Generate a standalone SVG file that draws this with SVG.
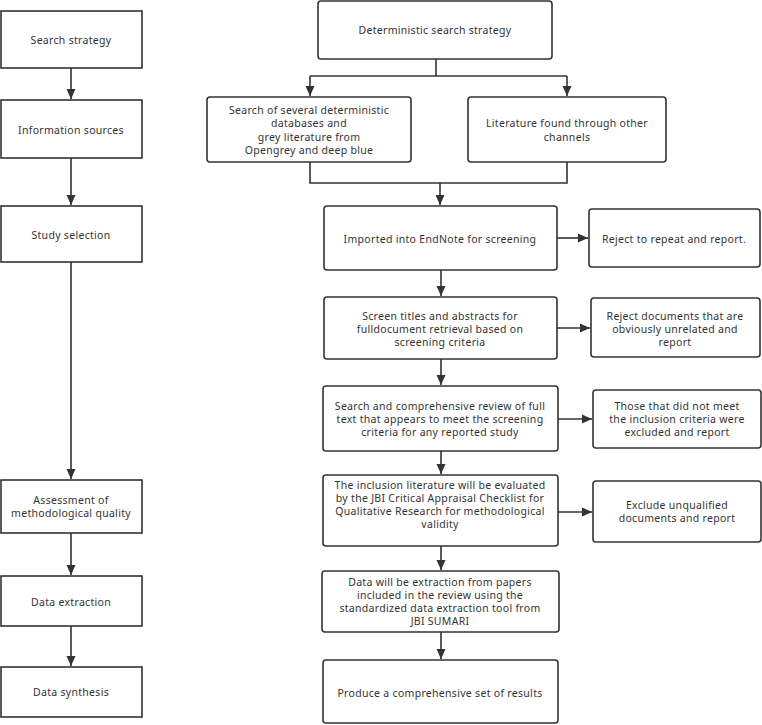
<svg xmlns="http://www.w3.org/2000/svg" width="762" height="725" viewBox="0 0 762 725">
<style>
.box{fill:#fff;stroke:#333;stroke-width:1.6}
.t{font-family:"Noto Sans","Open Sans",sans-serif;font-size:10.5px;letter-spacing:0.3px;fill:#333;text-anchor:middle}
.c{fill:none;stroke:#333;stroke-width:1.6}
</style>
<defs>
<marker id="ah" markerUnits="userSpaceOnUse" markerWidth="10" markerHeight="10" viewBox="0 0 10 10" refX="10" refY="5" orient="auto">
<path d="M0,0.5 L10,5 L0,9.5 Z" fill="#333"/>
</marker>
</defs>
<rect width="762" height="725" fill="#fff"/>
<g id="connectors">
<path class="c" d="M71,68 V99" marker-end="url(#ah)"/>
<path class="c" d="M71,158 V205" marker-end="url(#ah)"/>
<path class="c" d="M71,262 V479" marker-end="url(#ah)"/>
<path class="c" d="M71,533 V575" marker-end="url(#ah)"/>
<path class="c" d="M71,626 V666" marker-end="url(#ah)"/>
<path class="c" d="M436,59 V76"/>
<path class="c" d="M310,76 H567"/>
<path class="c" d="M310,76 V96" marker-end="url(#ah)"/>
<path class="c" d="M567,76 V96" marker-end="url(#ah)"/>
<path class="c" d="M310,162 V183 H567 V162"/>
<path class="c" d="M440,183 V205" marker-end="url(#ah)"/>
<path class="c" d="M557,238 H588" marker-end="url(#ah)"/>
<path class="c" d="M441,270 V296" marker-end="url(#ah)"/>
<path class="c" d="M557,328 H590" marker-end="url(#ah)"/>
<path class="c" d="M441,359 V385" marker-end="url(#ah)"/>
<path class="c" d="M558,419 H592" marker-end="url(#ah)"/>
<path class="c" d="M441,451 V474" marker-end="url(#ah)"/>
<path class="c" d="M558,512 H592" marker-end="url(#ah)"/>
<path class="c" d="M441,546 V570" marker-end="url(#ah)"/>
<path class="c" d="M441,632 V659" marker-end="url(#ah)"/>
</g>
<g id="n-search-strategy"><rect class="box" x="1" y="11" width="141" height="57"/><text class="t" x="71" y="44">Search strategy</text></g>
<g id="n-info-sources"><rect class="box" x="1" y="100" width="141" height="58"/><text class="t" x="71" y="134">Information sources</text></g>
<g id="n-study-selection"><rect class="box" x="1" y="206" width="141" height="56"/><text class="t" x="71" y="239">Study selection</text></g>
<g id="n-assessment"><rect class="box" x="1" y="480" width="141" height="53"/><text class="t" x="71" y="504">Assessment of</text><text class="t" x="71" y="517">methodological quality</text></g>
<g id="n-data-extraction"><rect class="box" x="1" y="576" width="141" height="50"/><text class="t" x="71" y="606">Data extraction</text></g>
<g id="n-data-synthesis"><rect class="box" x="1" y="667" width="141" height="50"/><text class="t" x="71" y="696">Data synthesis</text></g>

<g id="n-deterministic"><rect class="box" x="318" y="1" width="234" height="58" rx="3"/><text class="t" x="435" y="34">Deterministic search strategy</text></g>
<g id="n-databases"><rect class="box" x="207" y="97" width="204" height="65" rx="3"/><text class="t" x="309" y="114">Search of several deterministic</text><text class="t" x="309" y="127">databases and</text><text class="t" x="309" y="141">grey literature from</text><text class="t" x="309" y="154">Opengrey and deep blue</text></g>
<g id="n-other-channels"><rect class="box" x="468" y="97" width="198" height="65" rx="3"/><text class="t" x="567" y="127">Literature found through other</text><text class="t" x="567" y="141">channels</text></g>
<g id="n-endnote"><rect class="box" x="324" y="206" width="233" height="64" rx="3"/><text class="t" x="440" y="243">Imported into EndNote for screening</text></g>
<g id="n-reject-repeat"><rect class="box" x="589" y="209" width="171" height="58" rx="3"/><text class="t" x="674" y="243">Reject to repeat and report.</text></g>
<g id="n-screen"><rect class="box" x="324" y="297" width="233" height="62" rx="3"/><text class="t" x="440" y="320">Screen titles and abstracts for</text><text class="t" x="440" y="333">fulldocument retrieval based on</text><text class="t" x="440" y="346">screening criteria</text></g>
<g id="n-reject-unrelated"><rect class="box" x="591" y="298" width="169" height="59" rx="3"/><text class="t" x="675" y="320">Reject documents that are</text><text class="t" x="675" y="333">obviously unrelated and</text><text class="t" x="675" y="346">report</text></g>
<g id="n-fulltext"><rect class="box" x="323" y="386" width="235" height="65" rx="3"/><text class="t" x="440" y="410">Search and comprehensive review of full</text><text class="t" x="440" y="423">text that appears to meet the screening</text><text class="t" x="440" y="436">criteria for any reported study</text></g>
<g id="n-not-meet"><rect class="box" x="593" y="390" width="168" height="58" rx="3"/><text class="t" x="677" y="410">Those that did not meet</text><text class="t" x="677" y="423">the inclusion criteria were</text><text class="t" x="677" y="436">excluded and report</text></g>
<g id="n-jbi"><rect class="box" x="323" y="475" width="235" height="71" rx="3"/><text class="t" x="440" y="489">The inclusion literature will be evaluated</text><text class="t" x="440" y="502">by the JBI Critical Appraisal Checklist for</text><text class="t" x="440" y="515">Qualitative Research for methodological</text><text class="t" x="440" y="528">validity</text></g>
<g id="n-unqualified"><rect class="box" x="593" y="481" width="168" height="61" rx="3"/><text class="t" x="677" y="509">Exclude unqualified</text><text class="t" x="677" y="522">documents and report</text></g>
<g id="n-extraction"><rect class="box" x="322" y="571" width="237" height="61" rx="3"/><text class="t" x="440" y="586">Data will be extraction from papers</text><text class="t" x="440" y="599">included in the review using the</text><text class="t" x="440" y="612">standardized data extraction tool from</text><text class="t" x="440" y="625">JBI SUMARI</text></g>
<g id="n-results"><rect class="box" x="323" y="660" width="235" height="63" rx="3"/><text class="t" x="440" y="697">Produce a comprehensive set of results</text></g>
</svg>
